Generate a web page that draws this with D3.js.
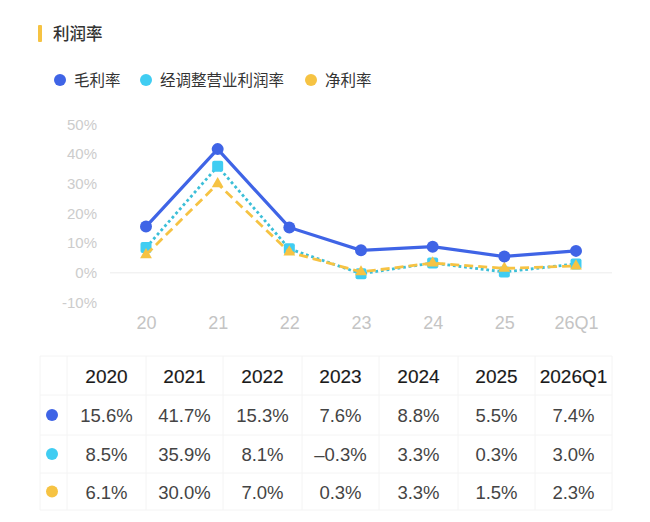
<!DOCTYPE html>
<html>
<head>
<meta charset="utf-8">
<script src="https://cdn.jsdelivr.net/npm/d3@7"></script>
<style>
  body { margin: 0; background: #fff; }
  text { font-family: "Noto Sans CJK SC", "Noto Sans", sans-serif; }
</style>
</head>
<body>
<div id="chart"></div>
<script>
// chart data
const periods = ["20", "21", "22", "23", "24", "25", "26Q1"];
const years = ["2020", "2021", "2022", "2023", "2024", "2025", "2026Q1"];
const grossMargin = [15.6, 41.7, 15.3, 7.6, 8.8, 5.5, 7.4];
const adjOpMargin = [8.5, 35.9, 8.1, -0.3, 3.3, 0.3, 3.0];
const netMargin = [6.1, 30.0, 7.0, 0.3, 3.3, 1.5, 2.3];
const seriesNames = ["毛利率", "经调整营业利润率", "净利率"];
const yTicks = [-10, 0, 10, 20, 30, 40, 50];

const colors = ["#3f64e6", "#40cdf2", "#f6c343"];
const latin = "'Liberation Sans', Arial, sans-serif";

const W = 650, H = 522;
const svg = d3.select("#chart").append("svg")
    .attr("width", W)
    .attr("height", H);

// title
svg.append("rect").attr("x", 38).attr("y", 25).attr("width", 4).attr("height", 17)
    .attr("rx", 1).attr("fill", colors[2]);
svg.append("text").attr("x", 53).attr("y", 40)
    .attr("font-size", 16.5).attr("font-weight", 500).attr("fill", "#333")
    .text("利润率");

// legend
const legendX = [60, 146, 311];
seriesNames.forEach((name, i) => {
    svg.append("circle").attr("cx", legendX[i]).attr("cy", 80).attr("r", 6)
        .attr("fill", colors[i]);
    svg.append("text").attr("x", legendX[i] + 14).attr("y", 86)
        .attr("font-size", 15.5).attr("fill", "#333").text(name);
});

// scales
const x = d3.scalePoint()
    .domain(periods)
    .range([146, 576]);

const y = d3.scaleLinear()
    .domain([-10, 50])
    .range([302.5, 124.5]);

// zero line
svg.append("line")
    .attr("x1", 110).attr("x2", 612)
    .attr("y1", y(0)).attr("y2", y(0))
    .attr("stroke", "#ececec").attr("stroke-width", 1);

// y axis labels
const yAxis = svg.append("g")
    .attr("transform", "translate(97,0)")
    .call(d3.axisLeft(y).tickValues(yTicks).tickSize(0).tickPadding(0).tickFormat(d => d + "%"));
yAxis.select(".domain").remove();
yAxis.selectAll("text")
    .attr("font-size", 15).attr("fill", "#cccccc")
    .style("font-family", latin);

// x axis labels
const xAxis = svg.append("g")
    .attr("transform", "translate(0,316)")
    .call(d3.axisBottom(x).tickSize(0).tickPadding(0));
xAxis.select(".domain").remove();
xAxis.selectAll("text")
    .attr("font-size", 18).attr("fill", "#c4c4c4")
    .style("font-family", latin);

const line = d3.line()
    .x((d, i) => x(periods[i]))
    .y(d => y(d));

// adjusted operating margin: dotted, square markers
svg.append("path").datum(adjOpMargin)
    .attr("d", line).attr("fill", "none")
    .attr("stroke", "#3cbfd8").attr("stroke-width", 2.8)
    .attr("stroke-dasharray", "2.8,2.8");
svg.selectAll(".sq").data(adjOpMargin).enter().append("rect")
    .attr("x", (d, i) => x(periods[i]) - 5.5)
    .attr("y", d => y(d) - 5.5)
    .attr("width", 11).attr("height", 11).attr("rx", 2)
    .attr("fill", colors[1]);

// net margin: dashed, triangle markers
svg.append("path").datum(netMargin)
    .attr("d", line).attr("fill", "none")
    .attr("stroke", colors[2]).attr("stroke-width", 2.8)
    .attr("stroke-dasharray", "9,5");
const tri = d3.symbol().type(d3.symbolTriangle).size(60);
svg.selectAll(".tri").data(netMargin).enter().append("path")
    .attr("d", tri)
    .attr("transform", (d, i) => `translate(${x(periods[i])},${y(d)})`)
    .attr("fill", colors[2]);

// gross margin: solid, circle markers
svg.append("path").datum(grossMargin)
    .attr("d", line).attr("fill", "none")
    .attr("stroke", colors[0]).attr("stroke-width", 3.2);
svg.selectAll(".dot").data(grossMargin).enter().append("circle")
    .attr("cx", (d, i) => x(periods[i]))
    .attr("cy", d => y(d))
    .attr("r", 6)
    .attr("fill", colors[0]);

// table
const colEdges = [40, 67, 146, 223, 302, 379, 458, 535, 612];
const rowEdges = [356, 395, 435, 473, 510];
const table = svg.append("g");

rowEdges.forEach(ry => {
    table.append("line").attr("x1", colEdges[0]).attr("x2", colEdges[colEdges.length - 1])
        .attr("y1", ry).attr("y2", ry).attr("stroke", "#f4f4f4");
});
colEdges.forEach(cx => {
    table.append("line").attr("x1", cx).attr("x2", cx)
        .attr("y1", rowEdges[0]).attr("y2", rowEdges[rowEdges.length - 1]).attr("stroke", "#f4f4f4");
});

const rowMid = i => (rowEdges[i] + rowEdges[i + 1]) / 2;
const colMid = i => (colEdges[i + 1] + colEdges[i + 2]) / 2;

years.forEach((yr, i) => {
    table.append("text").attr("x", colMid(i)).attr("y", rowMid(0) + 7)
        .attr("text-anchor", "middle").attr("font-size", 19)
        .attr("fill", "#1a1a1a").attr("stroke", "#1a1a1a").attr("stroke-width", 0.15)
        .style("font-family", latin)
        .text(yr);
});

const fmt = v => (v < 0 ? "\u2013" + Math.abs(v).toFixed(1) : v.toFixed(1)) + "%";
[grossMargin, adjOpMargin, netMargin].forEach((series, r) => {
    table.append("circle").attr("cx", 52).attr("cy", rowMid(r + 1)).attr("r", 6)
        .attr("fill", colors[r]);
    series.forEach((v, i) => {
        table.append("text").attr("x", colMid(i)).attr("y", rowMid(r + 1) + 7)
            .attr("text-anchor", "middle").attr("font-size", 18.5)
            .attr("fill", "#444").style("font-family", latin)
            .text(fmt(v));
    });
});
</script>
</body>
</html>
